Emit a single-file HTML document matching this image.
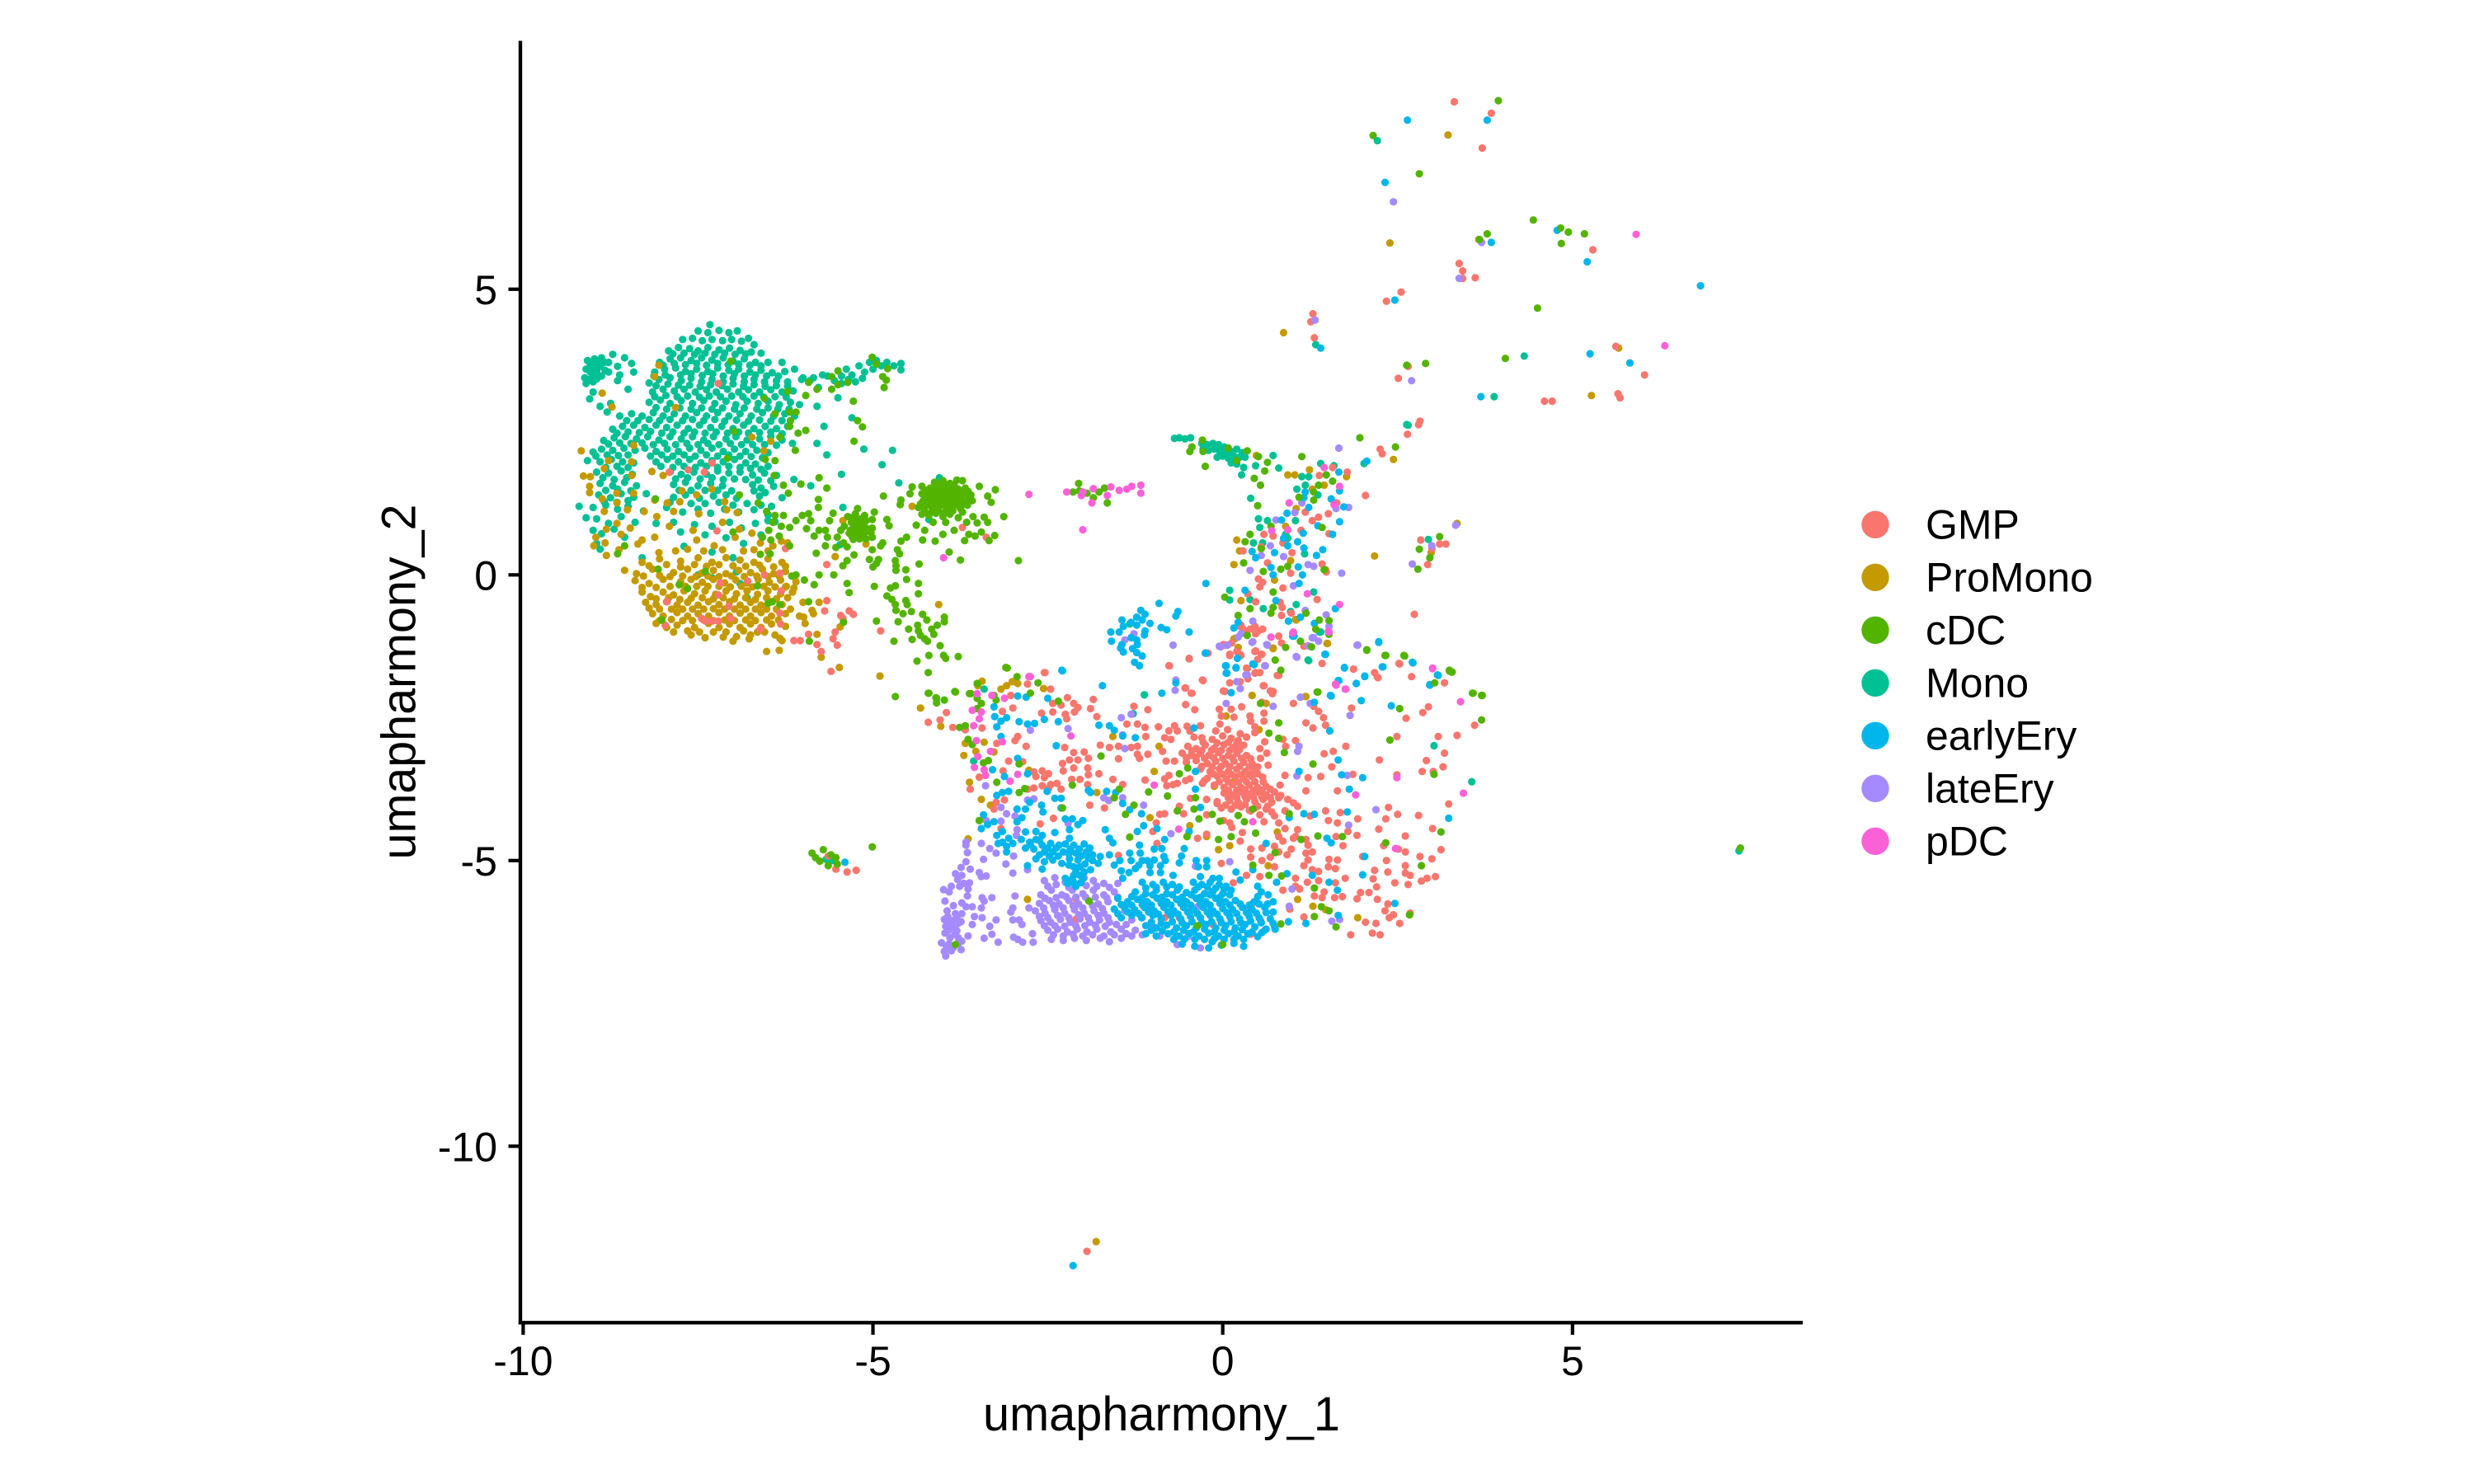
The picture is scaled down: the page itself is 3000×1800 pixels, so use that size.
<!DOCTYPE html>
<html>
<head>
<meta charset="utf-8">
<title>UMAP scatter</title>
<style>
html,body{margin:0;padding:0;background:#fff;}
svg{display:block;}
text{font-family:"Liberation Sans",Arial,sans-serif;fill:#000;}
</style>
</head>
<body>
<svg id="chart" xmlns="http://www.w3.org/2000/svg" width="3000" height="1800" viewBox="0 0 3000 1800">
<rect x="0" y="0" width="3000" height="1800" fill="#ffffff"/>
<g id="points"></g>
<line x1="631" y1="49.5" x2="631" y2="1606.5" stroke="#000" stroke-width="4.4"/>
<line x1="628.8" y1="1604.3" x2="2186" y2="1604.3" stroke="#000" stroke-width="4.4"/>
<g id="ticks"></g>
<text x="1408.5" y="1735" font-size="58.33" text-anchor="middle" textLength="433" lengthAdjust="spacingAndGlyphs">umapharmony_1</text>
<text transform="translate(503.5,827) rotate(-90)" font-size="58.33" text-anchor="middle" textLength="431" lengthAdjust="spacingAndGlyphs">umapharmony_2</text>
<g id="legend"></g>
</svg>
<script>
const xTicks=[-10,-5,0,5];
const yTicks=[-10,-5,0,5];
const seriesNames=["GMP","ProMono","cDC","Mono","earlyEry","lateEry","pDC"];
const seriesColors=["#F8766D","#C49A00","#53B400","#00C094","#00B6EB","#A58AFF","#FB61D7"];
const monoPoints=[-7.33,4.38,-7.5,4.27,-7.36,4.24,-7.2,4.28,-7.06,4.24,-6.94,4.27,-7.72,4.12,-7.58,4.14,-7.44,4.1,-7.3,4.12,-7.15,4.1,-7.02,4.12,-6.88,4.09,-6.78,4.14,-6.7,4.03,-7.92,3.92,-7.78,3.98,-7.62,3.96,-7.5,3.92,-7.36,3.98,-7.2,3.94,-7.05,3.97,-6.9,3.93,-6.74,3.9,-6.6,3.88,-8.05,3.72,-7.9,3.78,-7.75,3.8,-7.6,3.75,-7.45,3.8,-7.3,3.76,-7.14,3.8,-7,3.74,-6.84,3.78,-6.68,3.72,-6.5,3.72,-6.3,3.72,-8.12,3.55,-7.98,3.6,-7.82,3.62,-7.68,3.56,-7.52,3.6,-7.36,3.56,-7.22,3.62,-7.06,3.58,-6.92,3.6,-6.76,3.55,-6.6,3.58,-6.44,3.54,-6.26,3.56,-6.12,3.6,-8.2,3.36,-8.06,3.42,-7.9,3.45,-7.74,3.4,-7.6,3.44,-7.45,3.38,-7.3,3.42,-7.14,3.38,-7,3.44,-6.84,3.38,-6.7,3.42,-6.55,3.38,-6.38,3.4,-6.22,3.38,-6.02,3.42,-5.85,3.45,-5.72,3.5,-8.15,3.2,-8,3.25,-7.84,3.22,-7.7,3.25,-7.54,3.2,-7.38,3.24,-7.24,3.2,-7.08,3.25,-6.92,3.2,-6.78,3.24,-6.62,3.2,-6.46,3.24,-6.3,3.2,-6.14,3.22,-8.2,3.02,-8.04,3.06,-7.9,3,-7.74,3.05,-7.58,3,-7.42,3.05,-7.26,3,-7.1,3.04,-6.96,2.98,-6.8,3.04,-6.64,3,-6.5,3.04,-6.34,2.98,-6.18,3.02,-6.05,2.98,-8.62,2.78,-8.45,2.82,-8.3,2.78,-8.14,2.84,-8,2.78,-7.84,2.82,-7.68,2.78,-7.52,2.84,-7.38,2.78,-7.22,2.84,-7.06,2.78,-6.9,2.82,-6.74,2.78,-6.58,2.84,-6.42,2.78,-6.26,2.82,-6.12,2.78,-8.72,2.55,-8.58,2.6,-8.42,2.62,-8.26,2.58,-8.1,2.62,-7.95,2.58,-7.8,2.62,-7.64,2.56,-7.48,2.62,-7.32,2.58,-7.16,2.6,-7,2.56,-6.85,2.62,-6.7,2.56,-6.54,2.6,-6.38,2.56,-6.22,2.6,-8.85,2.35,-8.7,2.4,-8.54,2.42,-8.38,2.38,-8.22,2.42,-8.06,2.36,-7.9,2.42,-7.74,2.38,-7.58,2.42,-7.42,2.36,-7.28,2.42,-7.1,2.38,-6.96,2.42,-6.8,2.36,-6.62,2.38,-6.46,2.42,-6.3,2.36,-6.15,2.3,-9,2.15,-8.88,2.2,-8.72,2.18,-8.56,2.22,-8.4,2.18,-8.26,2.22,-8.1,2.16,-7.94,2.2,-7.78,2.16,-7.62,2.22,-7.46,2.18,-7.3,2.22,-7.14,2.16,-6.98,2.2,-6.82,2.16,-6.66,2.18,-6.5,2.14,-9.08,2,-8.9,1.98,-8.74,2.02,-8.58,1.98,-8.42,1.96,-8.1,1.98,-7.94,2.02,-7.78,1.98,-7.62,2.02,-7.46,1.96,-7.3,2,-7.14,1.98,-6.98,2.02,-6.82,1.96,-6.68,1.94,-6.5,1.9,-8.95,1.8,-8.78,1.78,-8.6,1.82,-8.44,1.76,-7.9,1.8,-7.74,1.76,-7.56,1.8,-7.38,1.76,-7.22,1.82,-7.06,1.78,-6.9,1.8,-6.72,1.75,-6.55,1.78,-6.38,1.74,-8.9,1.6,-8.72,1.56,-8.55,1.62,-8.38,1.56,-7.85,1.58,-7.68,1.62,-7.5,1.56,-7.32,1.6,-7.15,1.56,-6.72,1.58,-6.6,1.52,-6.42,1.55,-6.3,1.35,-8.92,1.4,-8.75,1.35,-8.6,1.42,-8.42,1.36,-8.24,1.42,-7.85,1.36,-7.68,1.4,-7.48,1.34,-7.28,1.38,-7.1,1.4,-6.95,1.34,-6.62,1.38,-6.45,1.2,-9.2,1.2,-9,1.18,-8.82,1.22,-8.65,1.15,-8.5,1.2,-8.28,1.12,-7.95,1.18,-7.72,1.1,-7.5,1.15,-7.32,1.08,-7.12,1.15,-6.92,1.1,-6.7,1.14,-6.5,1.05,-6.4,0.93,-9.1,1,-8.95,0.98,-8.78,0.9,-8.6,1.02,-8.4,0.92,-8.1,0.9,-7.85,0.92,-7.55,0.88,-7.3,0.85,-7.05,0.92,-6.88,0.82,-6.68,0.9,-6.5,0.95,-9,0.78,-8.88,0.72,-8.7,0.8,-8.55,0.66,-7.75,0.75,-7.4,0.7,-7.1,0.65,-6.85,0.55,-6.6,0.7,-8.95,0.55,-8.9,0.45,-8.3,0.3,-7.7,0.5,-7.3,0.4,-7,0.3,-6.95,0.05,-6.9,-0.15,-7.3,-0.05,-7.5,0,-7.4,-0.8,-6.8,-0.4,-9.08,3.75,-8.98,3.78,-8.88,3.8,-8.78,3.72,-8.72,3.86,-9.1,3.6,-9,3.62,-8.9,3.65,-8.78,3.55,-9.12,3.45,-9,3.5,-8.88,3.48,-9.1,3.35,-9,3.38,-8.55,3.8,-8.45,3.7,-8.65,3.65,-8.62,3.5,-8.65,3.4,-8.5,3.25,-8.42,3.55,-9,3.2,-9.05,3.08,-8.8,2.85,-8.75,3,-8.9,2.95,-6,3.45,-5.9,3.4,-5.78,3.28,-5.65,3.48,-5.55,3.4,-5.45,3.35,-5.38,3.6,-5.3,3.5,-5.2,3.66,-5.12,3.55,-5.05,3.72,-5,3.6,-4.95,3.75,-4.88,3.66,-4.8,3.72,-4.7,3.66,-4.6,3.7,-5.35,3.42,-5.25,3.38,-5.15,3.44,-5.45,3.48,-4.6,3.59,-5.5,3.1,-5.3,2.75,-5.8,2.95,-5.7,2.6,-5.8,2.3,-5.66,2.1,-5.13,2.2,-4.63,1.61,-6.13,1.67,-5.89,1.56,-5.45,1.76,-5.43,1.18,-4.72,2.18,-4.87,1.93,-4.05,1.7,-4.2,0.97,-5.47,0.53,2.21,7.6,1.33,4.03,4.31,3.83,3.88,3.12,2.63,2.63,-0.69,2.39,-0.62,2.4,-0.54,2.38,-0.46,2.4,0.51,0.98,0.53,0.83,0.64,0.95,0.44,0.56,0.57,0.56,0.9,0.71,0.93,0.64,1.04,0.95,0.4,1.34,1.18,1.57,1.06,1.5,1.36,1.4,1.4,1.95,1.59,1.91,1.13,1.72,1.23,1.72,0.47,1.91,0.3,1.88,0.27,1.75,0.8,1.87,0.72,2.09,2.02,1.95,2.65,2.62,0.1,-0.27,0.1,-0.44,0.39,-0.43,0.58,-0.59,1.3,-0.3,1.05,-0.52,0.97,-0.64,1.4,-1,1.23,-1.5,-1.12,-2.1,2.94,0.62,1.17,0.37,-0.3,2.3,-0.22,2.28,-0.14,2.3,-0.06,2.28,0.02,2.24,-0.28,2.2,-0.2,2.18,-0.12,2.2,-0.04,2.16,0.04,2.14,0.12,2.16,0.2,2.2,0.28,2.14,-0.08,2.06,0,2.08,0.08,2.04,0.16,2.08,0.24,2.06,0.32,2.06,0.12,1.96,0.2,1.94,-1.12,-2.1,-3.41,-2,-3.56,-3.26,1.22,-1.49,-1.28,-2.43,3.02,-2.99,3.56,-3.62,-1.33,-0.86,1.38,-1,-5.67,-4.98,-5.58,-5,7.38,-4.83,-7.86,3.87,-7.7,3.88,-7.55,3.86,-7.4,3.88,-7.26,3.86,-7.12,3.88,-6.97,3.86,-6.82,3.87,-8,3.67,-7.84,3.7,-7.68,3.68,-7.52,3.7,-7.38,3.67,-7.22,3.7,-7.07,3.68,-6.92,3.69,-6.76,3.67,-6.6,3.66,-8.13,3.48,-7.97,3.5,-7.75,3.5,-7.6,3.52,-7.44,3.49,-7.29,3.52,-7.14,3.48,-6.98,3.52,-6.84,3.48,-6.68,3.5,-6.52,3.48,-6.35,3.48,-8.1,3.31,-7.93,3.34,-7.78,3.32,-7.62,3.32,-7.47,3.3,-7.32,3.33,-7.16,3.31,-7,3.34,-6.85,3.3,-6.7,3.33,-6.54,3.3,-6.38,3.31,-6.22,3.3,-8.12,3.12,-7.96,3.14,-7.8,3.12,-7.65,3.13,-7.48,3.11,-7.34,3.13,-7.18,3.12,-7.02,3.13,-6.86,3.12,-6.7,3.13,-6.56,3.11,-6.4,3.12,-6.24,3.11,-8.1,2.93,-7.95,2.9,-7.76,2.92,-7.6,2.9,-7.45,2.92,-7.3,2.9,-7.15,2.92,-6.98,2.9,-6.84,2.92,-6.66,2.9,-6.5,2.92,-6.36,2.9,-6.2,2.9,-8.52,2.7,-8.36,2.7,-8.2,2.72,-8.05,2.7,-7.9,2.72,-7.72,2.7,-7.58,2.72,-7.42,2.7,-7.26,2.72,-7.12,2.69,-6.95,2.71,-6.78,2.69,-6.62,2.71,-6.46,2.69,-6.3,2.7,-8.66,2.48,-8.5,2.5,-8.34,2.49,-8.18,2.51,-8.02,2.48,-7.86,2.5,-7.7,2.48,-7.55,2.5,-7.4,2.48,-7.24,2.5,-7.08,2.48,-6.92,2.5,-6.78,2.48,-6.62,2.49,-6.46,2.5,-6.3,2.47,-8.78,2.29,-8.62,2.31,-8.46,2.3,-8.3,2.31,-8.14,2.28,-7.98,2.3,-7.82,2.28,-7.66,2.3,-7.5,2.28,-7.36,2.3,-7.2,2.28,-7.04,2.3,-6.88,2.28,-6.72,2.28,-6.55,2.28,-6.38,2.27,-8.96,2.08,-8.8,2.1,-8.64,2.09,-8.5,2.1,-8.18,2.08,-8.02,2.1,-7.86,2.08,-7.7,2.1,-7.54,2.08,-7.38,2.1,-7.22,2.08,-7.06,2.1,-6.9,2.08,-6.74,2.07,-6.58,2.05,-8.82,1.88,-8.66,1.9,-8.5,1.88,-8.03,1.9,-7.86,1.88,-7.7,1.9,-7.54,1.88,-7.38,1.9,-7.22,1.88,-7.06,1.9,-6.9,1.88,-6.75,1.86,-6.6,1.85,-8.86,1.7,-8.7,1.67,-8.52,1.7,-7.82,1.68,-7.65,1.7,-7.47,1.68,-7.3,1.7,-7.14,1.67,-6.98,1.68,-6.82,1.67,-6.64,1.66,-6.46,1.65,-8.82,1.48,-8.65,1.5,-8.46,1.47,-7.77,1.48,-7.6,1.48,-7.4,1.48,-7.22,1.48,-7.02,1.47,-6.7,1.47,-6.54,1.44,-8.84,1.28,-8.66,1.27,-8.5,1.3,-7.9,1.27,-7.6,1.25,-7.4,1.25,-7.2,1.27,-7,1.22,-6.8,1.25,-6.6,1.22,-9.04,3.68,-8.94,3.7,-8.84,3.72,-9.04,3.55,-8.95,3.56,-8.83,3.58,-9.06,3.42,-8.95,3.43];
const proMonoPoints=[-8.87,3.18,-8.73,2.94,-9.17,2.17,-8.42,2.27,-8.78,2,-8.45,1.98,-8.12,3.47,-8.06,3.67,-7.82,2.93,-6.46,2.34,-6.56,2.17,-6.73,2.41,-9.14,1.73,-9.04,1.72,-9.05,1.55,-9.05,1.44,-8.84,1.86,-8.45,1.74,-8.16,1.81,-8,1.74,-8.66,1.43,-8.87,1.33,-8.66,1.26,-8.42,1.43,-8.12,1.31,-7.94,1.26,-7.73,1.47,-7.52,1.4,-7.3,1.5,-7.12,1.28,-7.76,1.28,-8.84,1.11,-8.51,1.14,-8.27,1.11,-8.09,1.02,-7.85,1.11,-7.49,1.07,-7.09,1.14,-6.94,1.09,-8.66,0.9,-8.81,0.8,-8.96,0.66,-8.99,0.51,-8.83,0.56,-8.6,0.71,-8.47,0.82,-8.3,0.61,-8.12,0.66,-7.91,0.85,-7.57,0.78,-7.15,0.92,-6.91,0.8,-6.73,0.73,-6.31,0.59,-6.22,0.56,-8.81,0.34,-8.63,0.44,-8.36,0.54,-8.06,0.39,-7.82,0.42,-7.52,0.61,-7.27,0.51,-6.97,0.66,-6.61,0.56,-6.43,0.51,-8.3,0.22,-8.05,0.28,-7.75,0.24,-7.5,0.3,-7.3,0.22,-7.1,0.3,-6.9,0.26,-6.7,0.22,-6.5,0.28,-6.3,0.22,-8.55,0.08,-8.38,0.02,-8.15,0.1,-7.85,0.04,-7.65,0.1,-7.45,0.03,-7.28,0.08,-7.1,0.02,-6.92,0.08,-6.75,0.04,-6.58,0.1,-6.42,0.02,-6.25,0.06,-8.4,-0.1,-8.2,-0.15,-8,-0.08,-7.75,-0.12,-7.6,-0.08,-7.44,-0.13,-7.28,-0.08,-7.12,-0.14,-6.96,-0.09,-6.8,-0.14,-6.64,-0.08,-6.48,-0.13,-6.32,-0.09,-6.1,-0.12,-8.3,-0.3,-8.18,-0.38,-8,-0.3,-7.85,-0.35,-7.7,-0.28,-7.55,-0.33,-7.4,-0.28,-7.25,-0.34,-7.1,-0.28,-6.95,-0.33,-6.8,-0.28,-6.65,-0.34,-6.5,-0.28,-6.32,-0.33,-6.15,-0.3,-8.25,-0.48,-8.1,-0.52,-7.95,-0.47,-7.8,-0.53,-7.65,-0.48,-7.5,-0.53,-7.35,-0.47,-7.2,-0.52,-7.05,-0.47,-6.9,-0.53,-6.75,-0.48,-6.6,-0.53,-6.45,-0.47,-6.3,-0.52,-6,-0.48,-8.15,-0.68,-8,-0.72,-7.8,-0.66,-7.65,-0.72,-7.5,-0.68,-7.35,-0.72,-7.2,-0.66,-7.05,-0.72,-6.9,-0.67,-6.75,-0.72,-6.6,-0.66,-6.45,-0.72,-6.25,-0.68,-6.05,-0.72,-5.85,-0.68,-8.1,-0.85,-7.95,-0.92,-7.8,-0.88,-7.55,-0.92,-7.35,-0.85,-7.2,-0.92,-7.05,-0.86,-6.9,-0.92,-6.75,-0.86,-6.6,-0.92,-6.45,-0.86,-6.25,-0.9,-7.6,-1.05,-7.4,-1.1,-7.1,-1,-6.95,-1.08,-6.75,-1.05,-6.55,-1,-6.4,-1.05,-6.3,-1.15,-7.14,-1.09,-7,-1.16,-6.77,-1.12,-6.52,-1.34,-6.34,-1.32,-6.33,-1.11,-5.74,-1.44,-5.48,-1.62,-4.9,-1.77,-4.06,-0.52,-5.97,-0.85,-5.99,-0.74,-5.77,-0.48,-5.87,-0.62,-6.13,-0.23,-6.25,-0.21,-5.8,-1.04,-5.47,-0.91,-5.1,0.54,-5.43,0.95,-4.44,1.2,-5.54,0.32,3.22,7.7,2.39,5.81,0.87,4.24,5.66,3.97,5.27,3.14,3.66,5.87,2.44,2.02,0.93,1.75,1.03,1.75,1.24,1.84,0.48,2.09,1.77,1.72,1.45,1.57,1.28,1.5,1.05,1.16,0.2,0.61,0.9,0.85,0.24,0.42,0.16,0.18,0.97,0.25,2.17,0.33,2.98,0.39,3.35,0.9,1.47,0.09,0.74,-0.09,0.26,-0.45,1.05,-0.79,0.18,-1.11,1.5,-1.2,0.22,-1.27,0.72,-1.29,0.42,-2.11,1.18,-2.13,-4.32,-2.33,-4.03,-2.65,-3.44,-1.86,-3.5,-1.94,-3.01,-1.87,-2.93,-1.9,-3.09,-1.94,-3.17,-2,-2.56,-1.99,-3.41,-2.93,-3.68,-2.95,-3.53,-3.09,-3.7,-3.16,-3.27,-3.1,-2.77,-3.42,-3.62,-3.63,-3.45,-3.93,-3.32,-4.03,-1.8,-3.81,-0.91,-3,-0.98,-3.44,-1.57,-2.83,-1.04,-4.25,-0.47,-4.39,-0.23,-4.58,0.1,-4.74,-0.06,-4.81,-0.12,-3.7,0.17,-3.6,0.19,-4.03,0.78,-4.5,0.65,-5.09,0.05,-2.47,0.42,-2.11,0.62,-2.25,1.19,-2.13,0.52,-2.71,-3.64,-4.62,-2.79,-5.68,1.07,-5.68,1.29,-5.8,1.47,-5.86,1.93,-6,1.49,-1.2,0.22,-1.27,0.16,-1.12,0.72,-1.28,1.04,-0.78,-1.81,-11.67,-8.2,0.16,-7.95,0.18,-7.75,0.14,-7.55,0.18,-7.38,0.15,-7.2,0.18,-7,0.16,-6.82,0.15,-6.62,0.17,-6.42,0.14,-6.25,0.15,-8.28,-0.02,-8.05,-0.01,-7.9,-0.03,-7.72,-0.02,-7.53,-0.03,-7.36,-0.02,-7.2,-0.03,-7.02,-0.02,-6.84,-0.03,-6.66,-0.02,-6.5,-0.03,-6.34,-0.02,-8.3,-0.22,-8.1,-0.22,-7.9,-0.2,-7.68,-0.2,-7.52,-0.2,-7.36,-0.2,-7.2,-0.2,-7.04,-0.21,-6.88,-0.2,-6.72,-0.21,-6.56,-0.2,-6.4,-0.21,-6.24,-0.2,-8.1,-0.42,-7.92,-0.4,-7.76,-0.43,-7.6,-0.41,-7.44,-0.4,-7.28,-0.42,-7.14,-0.4,-6.98,-0.42,-6.82,-0.4,-6.68,-0.43,-6.52,-0.4,-6.38,-0.42,-6.22,-0.4,-8.2,-0.58,-8.05,-0.6,-7.88,-0.6,-7.72,-0.6,-7.58,-0.6,-7.42,-0.6,-7.28,-0.59,-7.12,-0.6,-6.98,-0.6,-6.82,-0.6,-6.68,-0.6,-6.52,-0.6,-6.38,-0.6,-6.18,-0.6,-8.05,-0.8,-7.88,-0.78,-7.72,-0.8,-7.58,-0.8,-7.42,-0.79,-7.28,-0.8,-7.12,-0.79,-6.98,-0.8,-6.82,-0.79,-6.68,-0.8,-6.52,-0.79,-6.35,-0.79,-7.85,-1,-7.65,-0.98,-7.48,-1,-7.28,-1,-6.85,-0.98,-6.65,-1,-7.65,0.45,-7.42,0.42,-7.15,0.44,-6.85,0.42,-6.7,0.44,-6.5,0.42];
const gmpPoints=[3.31,8.28,3.84,8.08,3.71,7.47,3.38,5.45,3.43,5.32,3.43,5.19,3.61,5.2,5.29,5.69,2.55,4.95,2.34,4.79,1.29,4.57,1.26,4.43,1.31,4.15,2.65,3.65,2.51,3.44,4.6,3.04,4.71,3.04,5.62,4,6.03,3.5,5.65,3.17,5.68,3.1,2.82,2.69,2.8,2.63,2.64,2.46,2.04,1.39,2.25,2.2,2.28,2.12,1.57,1.88,1.78,1.8,1.63,1.26,1.38,1.74,1.18,1.1,1.51,1.07,1.37,1.01,1.28,0.95,1.12,0.78,1.52,0.72,0.72,0.68,0.59,0.71,0.86,0.56,0.99,0.39,0.29,0.42,0.55,0.49,0.64,0.21,1.42,0.19,0.97,0.03,1.48,0.05,2.93,0.18,2.83,0.61,3.1,0.54,3.19,0.54,2.99,0.46,0.51,-0.07,0.57,-0.13,0.53,-0.21,0.86,-0.23,0.36,-0.33,0.47,-0.47,0.82,-0.48,0.85,-0.57,0.84,-0.71,0.98,-0.67,1.35,-0.43,2.74,-0.69,0.26,-0.88,0.29,-0.95,0.39,-0.95,0.51,-0.98,0.47,-1.03,0.57,-0.95,0.8,-1.07,0.84,-1.19,1.16,-1.25,0.47,-1.33,0.55,-1.39,0.2,-1.34,0.26,-1.41,0.1,-1.41,-0.21,-1.37,0.04,-1.23,-0.48,-1.46,-0.76,-1.59,0.35,-1.64,0.47,-1.71,0.53,-1.71,0.36,-1.82,0.8,-1.76,0.58,-1.94,1.42,-1.55,1.87,-1.65,2.22,-1.8,2.53,-1.56,2.7,-1.78,3.17,-1.89,-0.28,-1.85,-0.53,-1.98,-0.44,-2.07,0.03,-2.04,0.72,-2.04,-2.54,-1.71,-5.66,0.18,-5.66,-0.45,-5.69,-0.63,-5.34,-0.63,-5.28,-0.69,-5.46,-0.71,-5.43,-0.76,-5.54,-1,-5.57,-1.12,-5.51,-1.23,-4.89,-0.98,-5.92,-1.04,-5.8,-1.22,-5.74,-1.34,-6.04,-1.15,-6.13,-1.15,-5.6,-1.69,-6.33,-0.67,-6.32,-0.86,-6.31,-0.28,-6.33,0.03,-6.25,0.46,-3.72,0.83,-3.38,0.66,-7.21,3.35,-7.64,1.84,-7.41,1.8,-7.3,1.96,-7.91,1.8,-7.23,0.77,-7.97,-0.88,-7.39,-0.81,-7.3,-0.81,-7.45,-0.76,-7.21,-0.81,-6.55,0,-6.79,-0.11,-7.18,-0.14,-7.21,-0.35,-7.06,-0.55,-7.94,-0.47,-7.03,-0.76,-6.61,-0.95,2.17,-1.71,2.21,-1.79,2.52,-1.55,1.84,-2.33,2.94,-2.31,2.86,-2.41,2.62,-2.51,3.6,-2.63,3.35,-2.81,3.08,-2.83,2.49,-2.83,1.76,-3,1.58,-3.09,1.45,-3.13,1.56,-3.36,2.24,-3.24,2.91,-3.25,3.17,-3.12,3.15,-3.36,2.85,-3.44,3.01,-3.44,2.49,-3.5,1.86,-3.49,1.4,-3.53,1.22,-3.55,1.64,-3.78,1.19,-3.78,3.23,-4.01,2.37,-4.07,2.5,-4.19,2.8,-4.21,2.33,-4.27,1.93,-4.27,1.68,-4.16,1.47,-4.13,1.51,-4.3,1.25,-4.22,2.23,-4.45,3,-4.44,2.61,-4.57,1.64,-4.34,1.79,-4.49,1.92,-4.56,1.62,-4.58,3.12,-4.81,2.82,-4.93,2.99,-4.97,2.3,-4.74,2.51,-4.8,2.61,-4.85,2,-4.93,2.34,-5,1.72,-4.74,1.52,-4.98,1.64,-4.99,1.51,-5.11,1.61,-5.14,2.17,-5.17,2.36,-5.2,2.61,-5.09,2.61,-5.22,2.68,-5.26,3.04,-5.28,2.92,-5.31,2.84,-5.36,2.15,-5.32,2.2,-5.46,2.46,-5.39,2.65,-5.42,1.75,-5.31,1.61,-5.39,1.37,-5.35,1.97,-5.56,2.09,-5.56,1.92,-5.67,1.71,-5.63,1.6,-5.65,1.42,-5.65,1.45,-5.55,2.21,-5.68,2.36,-5.76,2.32,-5.88,2.44,-5.95,2.38,-6,2.68,-5.92,2.04,-6.08,2.19,-6.1,2.53,-6.1,2.14,-6.27,2.25,-6.3,1.83,-6.3,1.16,-5.99,0.96,-5.85,0.25,-0.9,0.31,-1,0.49,-1,0.46,-0.9,0.01,-1.22,0.13,-1.19,0.1,-1.39,0.25,-1.39,0.46,-1.34,0.56,-1.39,0.5,-1.48,0.34,-1.63,0.46,-1.72,0.53,-1.71,0.78,-1.76,0.1,-1.89,0.25,-1.87,0.59,-1.94,0.01,-2.03,0.68,-2.03,0.71,-2.08,0.56,-2.23,0.12,-2.35,0.27,-2.31,-0.05,-2.35,-0.02,-2.47,0.16,-2.49,0.39,-2.47,0.4,-2.56,0.59,-2.42,0.59,-2.56,0.46,-2.66,-0.04,-2.61,-0.1,-2.73,0.07,-2.71,0.25,-2.78,0.34,-2.84,0.46,-2.76,0.6,-2.92,0.63,-3.12,0.86,-2.88,0.9,-3,1.04,-2.9,0.65,-3.33,0.53,-3.04,0.54,-3.21,0.89,-3.51,0.57,-3.54,1.01,-2.25,1.3,-2.3,1.37,-2.39,1.44,-2.5,1.47,-2.63,1.29,-2.68,1.19,-2.59,0.82,-3.68,0.83,-3.86,0.93,-3.93,1.01,-3.99,1.07,-4.05,-0.24,-1.37,-0.48,-1.47,-0.77,-1.59,-0.29,-1.84,-0.54,-1.98,-0.45,-2.07,-0.53,-2.27,-0.4,-2.36,-1.27,-2.3,-1.07,-2.36,-1.8,-2.48,-1.89,-2.34,-1.85,-2.18,-2.22,-2.15,-2.13,-2.25,-2.07,-2.32,-2.12,-2.4,-2.25,-2.44,-2.23,-2.52,-2.55,-1.71,-2.46,-2,-2.43,-2.25,-2.31,-2.28,-2.43,-2.4,-2.59,-2.42,-2.79,-1.91,-3.03,-2.11,-3,-2.33,-3.15,-2.39,-3.95,-2.41,-4.21,-2.58,-4.04,-2.54,-3.86,-2.67,-3.68,-2.71,-3.44,-2.68,-2.93,-2.83,-2.97,-2.9,-2.81,-3,-3.23,-2.95,-2.26,-3.02,-2.13,-3.11,-1.98,-3.1,-1.75,-2.98,-1.62,-3.02,-1.49,-3,-1.37,-2.61,-1.22,-2.61,-1.11,-2.67,-1.1,-2.83,-0.92,-2.66,-0.77,-2.73,-0.65,-2.73,-0.69,-2.64,-0.51,-2.65,-0.32,-2.64,-0.47,-2.73,-0.83,-2.85,-0.74,-2.88,-0.41,-2.84,-1.31,-3.02,-1.22,-3,-1.07,-3.14,-1.22,-3.14,-1.19,-3.21,-0.86,-3.09,-0.81,-3.26,-0.69,-3.26,-1.49,-3.22,-1.92,-3.21,-2.07,-3.24,-2.29,-3.3,-2.19,-3.24,-2.13,-3.38,-1.93,-3.38,-1.77,-3.48,-1.92,-3.5,-2.28,-3.43,-3.06,-3.26,-2.86,-3.27,-3.14,-3.43,-3.48,-3.54,-1.11,-3.59,-1.43,-3.67,-1.57,-3.58,-2.16,-3.58,-2.04,-3.58,-0.77,-3.51,-0.83,-3.57,-0.65,-3.65,-0.8,-3.69,-0.71,-3.67,-0.53,-3.6,-0.47,-3.57,-0.29,-3.65,-0.26,-3.6,-3.61,-3.75,-1.93,-3.67,-2.7,-3.45,-2.58,-3.43,-2.49,-3.48,-2.67,-3.53,-2.55,-3.55,-2.37,-3.65,-2.46,-3.67,-2.58,-3.69,-2.7,-3.73,-2.79,-3.75,-2.49,-3.74,-2.31,-3.75,-3.24,-3.98,-3.12,-3.94,-3.27,-4.1,-3.17,-4.44,-2.61,-4.36,-2.42,-4.26,-1.9,-4.03,-1.69,-4.08,-0.9,-4.19,-0.83,-4.18,-0.56,-4.18,-0.62,-4.05,-0.95,-4.34,-1,-4.49,-0.46,-3.91,-0.23,-3.93,-0.08,-4,-0.02,-4.08,-0.23,-4.2,0.01,-4.3,0.1,-4.34,0.13,-4.42,0.28,-4.51,0.25,-4.66,-0.23,-4.54,-0.36,-4.61,-0.94,-4.7,-1.49,-4.91,-0.02,-5.05,0.4,-4.8,0.56,-4.78,0.4,-4.94,0.56,-5,0.74,-5.11,0.68,-4.94,0.8,-4.85,0.92,-4.9,0.98,-4.8,0.86,-4.66,0.8,-4.58,0.74,-4.75,0.89,-4.44,1.01,-4.61,1.07,-4.46,1.04,-4.58,1.19,-4.63,1.22,-4.73,1.19,-4.87,1.28,-4.85,1.22,-4.99,1.16,-5.09,1.28,-5.16,1.37,-5.19,1.04,-5.31,1.21,-5.38,1.04,-5.45,1.1,-5.5,0.86,-5.52,0.53,-5.28,0.34,-5.26,0.15,-5.39,0.43,-5.75,0.36,-5.86,1.31,-5.62,0.4,-6.29,-0.14,-6.12,-0.83,-6,-0.77,-5.93,-1.07,-5.86,-0.62,-6,-2.1,-5.67,-2.4,-5.86,-2.1,-6.03,0.4,-4.13,0.46,-4.08,0.53,-4.2,0.59,-4.32,0.74,-4.22,0.8,-4.34,0.89,-4.13,-0.3,-2.85,-0.15,-2.88,0,-2.82,0.12,-2.86,0.22,-2.9,-0.5,-3,-0.38,-3.04,-0.25,-2.98,-0.12,-3.03,0.02,-2.97,0.15,-3.02,0.3,-2.98,-0.58,-3.12,-0.45,-3.16,-0.32,-3.12,-0.2,-3.16,-0.06,-3.11,0.08,-3.16,0.2,-3.12,0.34,-3.16,-0.52,-3.28,-0.38,-3.25,-0.22,-3.3,-0.1,-3.26,0.04,-3.3,0.16,-3.26,0.3,-3.28,0.42,-3.3,-0.32,-3.4,-0.18,-3.44,-0.05,-3.4,0.08,-3.44,0.2,-3.4,0.32,-3.44,0.45,-3.42,-0.22,-3.56,-0.08,-3.52,0.05,-3.57,0.18,-3.53,0.3,-3.57,0.42,-3.53,-0.12,-3.68,0.02,-3.72,0.14,-3.67,0.26,-3.72,0.38,-3.68,0.5,-3.72,0.62,-3.7,0.02,-3.82,0.14,-3.85,0.26,-3.8,0.38,-3.84,0.5,-3.8,0.62,-3.85,0.74,-3.8,-0.08,-3.97,0.1,-3.95,0.22,-3.98,0.34,-3.93,0.46,-3.97,0.58,-3.93,0.7,-3.98,0.12,-4.1,0.26,-4.06,0.38,-4.12,-5.53,-5.15,-5.37,-5.2,-5.24,-5.17,-5.64,-4.92,-1.94,-11.84,-0.44,-3.08,-0.3,-3.07,-0.16,-3.07,-0.02,-3.07,0.1,-3.07,0.24,-3.06,-0.52,-3.2,-0.38,-3.19,-0.26,-3.21,-0.13,-3.2,0,-3.21,0.14,-3.2,0.27,-3.21,0.4,-3.22,-0.3,-3.35,-0.15,-3.36,-0.02,-3.35,0.1,-3.36,0.24,-3.35,0.38,-3.36,0.5,-3.36,-0.14,-3.48,0,-3.49,0.12,-3.49,0.26,-3.5,0.38,-3.49,0.5,-3.48,-0.05,-3.62,0.08,-3.62,0.22,-3.63,0.34,-3.62,0.46,-3.62,0.58,-3.62,0.08,-3.77,0.2,-3.77,0.32,-3.76,0.44,-3.77,0.56,-3.77,0.68,-3.75,0.08,-3.9,0.2,-3.9,0.32,-3.88,0.44,-3.89,0.56,-3.89,0.68,-3.9,0.8,-3.9,0.04,-4.03,0.18,-4.03,0.32,-4.02,0.5,-4.05,0.64,-4.05,-0.28,-2.93,-0.08,-2.94,0.08,-2.93,0.2,-2.95,0.62,-4.1,0.7,-4.15];
const lateEryPoints=[2.44,6.53,3.38,5.19,3.7,5.82,1.32,4.46,2.7,3.4,2.71,0.19,3.33,0.87,2.99,0.51,1.7,0.03,1.22,0.18,1.3,0.15,0.39,0.08,0.55,0.34,0.87,0.32,1.03,1.09,0.76,0.96,1.62,1.16,1.8,1.18,1.13,1.26,1.66,2.22,0.68,0.51,1.01,-0.19,1.18,-0.62,1.48,-0.7,1.52,-0.9,1.3,-1.1,1.37,-1.16,1.93,-1.23,1.06,-1.44,0.43,-1.17,0.64,-1.23,1.22,-1.24,0.43,-0.81,0.26,-1.03,-0.71,-1.23,-0.03,-1.26,0.07,-1.23,0.61,-1.59,-0.67,-1.84,-0.68,-2.02,0.35,-1.75,0.2,-1.87,-1.4,-1.14,-1.27,-1.03,-1.45,-2.5,-1.31,-2.44,-2.75,-2.72,-2.21,-2.69,-1.43,-2.8,-1.4,-3.04,0.05,-2.25,0.25,-1.99,0.33,-1.75,0.6,-1.59,0.42,-1.18,0.63,-1.22,0.22,-1.09,-0.05,-1.25,1.05,-1.43,1.28,-1.1,1.92,-1.23,1.82,-2.46,1.11,-2.14,1.25,-2.25,0.72,-2.3,1.07,-3.09,1.09,-3,1.06,-3.52,1.78,-3.51,2.19,-4.11,1.8,-4.38,1.67,-6.03,1.56,-6.06,0.1,-5.02,0.95,-5.8,-0.39,-5.1,-0.18,-5.57,-0.36,-5.81,0.54,-6.05,0.6,-6.22,0.74,-6.17,0.99,-5.5,-1.43,-3.9,-1.7,-3.9,-1.63,-3.95,-1.13,-4.03,-2.7,-3.92,-2.79,-3.94,-3.09,-4.18,-3.17,-4.07,-2.97,-4.22,-3.39,-3.69,-3.38,-4.3,-3.17,-4.31,-2.94,-4.46,-2.95,-4.56,-2.21,-4.35,-0.74,-4.53,-3.67,-4.68,-3.67,-4.73,-3.45,-4.7,-3.65,-4.86,-3.33,-4.79,-3.24,-4.87,-2.99,-4.92,-3.42,-4.98,-3.67,-5.02,-3.1,-5.06,-3.74,-5.12,-3.61,-5.15,-2.79,-5.16,-3.48,-5.21,-3.45,-5.28,-3.38,-5.27,-3,-5.22,-3.82,-5.23,-3.73,-5.26,-3.79,-5.33,-3.7,-5.4,-3.62,-5.39,-3.88,-5.45,-3.76,-5.45,-3.99,-5.51,-3.91,-5.55,-3.64,-5.5,-3.65,-5.62,-3.44,-5.65,-3.3,-5.65,-2.97,-5.62,-3.41,-5.71,-3.73,-5.74,-3.97,-5.71,-3.85,-5.79,-3.67,-5.81,-3.58,-5.81,-3.45,-5.83,-3,-5.83,-3.03,-5.9,-2.77,-5.83,-3.94,-5.88,-3.82,-5.93,-3.73,-5.93,-3.98,-6.03,-3.86,-6.05,-3.74,-6.07,-3.55,-5.98,-3.44,-6,-3.24,-6.04,-3.58,-6.12,-3,-6.04,-2.91,-6.04,-3.33,-6.15,-2.87,-6.12,-3.96,-6.15,-3.85,-6.17,-3.97,-6.27,-3.83,-6.29,-3.3,-6.29,-3.41,-6.36,-3.64,-6.32,-3.73,-6.41,-2.99,-6.34,-2.93,-6.38,-3.21,-6.43,-2.72,-6.28,-2.71,-6.43,-2.86,-6.43,-4.02,-6.44,-3.91,-6.46,-3.98,-6.59,-3.88,-6.58,-3.96,-6.67,-3.74,-6.56,-2.55,-5.35,-2.4,-5.3,-2.25,-5.38,-1.98,-5.3,-1.85,-5.35,-1.7,-5.4,-1.5,-5.4,-2.6,-5.6,-2.45,-5.52,-2.3,-5.6,-2.15,-5.52,-2,-5.58,-1.85,-5.52,-1.7,-5.6,-1.55,-5.55,-2.62,-5.75,-2.48,-5.7,-2.34,-5.76,-2.2,-5.7,-2.06,-5.76,-1.92,-5.7,-1.78,-5.76,-1.64,-5.72,-2.68,-5.88,-2.54,-5.92,-2.4,-5.86,-2.26,-5.92,-2.12,-5.86,-1.98,-5.92,-1.84,-5.88,-1.7,-5.92,-1.4,-5.88,-2.6,-6.05,-2.46,-6.08,-2.32,-6.03,-2.18,-6.08,-2.04,-6.02,-1.9,-6.08,-1.76,-6.04,-1.62,-6.08,-1.3,-6.04,-1.15,-6,-2.5,-6.22,-2.36,-6.2,-2.22,-6.25,-2.08,-6.2,-1.94,-6.25,-1.8,-6.2,-1.6,-6.25,-1.45,-6.2,-1.25,-6.22,-1,-6.15,-2.45,-6.38,-2.28,-6.4,-2.12,-6.36,-1.95,-6.4,-1.75,-6.36,-1.62,-6.42,-1.45,-6.36,-1.3,-6.32,-1.15,-6.3,-0.9,-6.32,-0.65,-6.32,-0.5,-6.33,-0.65,-6.47,-0.32,-6.53,-2.5,-5.45,-2.38,-5.42,-2.2,-5.47,-1.95,-5.44,-1.8,-5.45,-1.62,-5.47,-2.54,-5.66,-2.38,-5.65,-2.24,-5.63,-2.1,-5.64,-1.96,-5.64,-1.82,-5.64,-1.66,-5.65,-1.5,-5.64,-2.56,-5.83,-2.42,-5.78,-2.28,-5.83,-2.14,-5.79,-2,-5.83,-1.86,-5.79,-1.72,-5.84,-2.62,-5.98,-2.5,-6,-2.36,-5.96,-2.2,-6,-2.06,-5.95,-1.92,-6,-1.78,-5.96,-1.64,-6,-2.55,-6.14,-2.4,-6.14,-2.26,-6.15,-2.1,-6.14,-1.97,-6.14,-1.82,-6.13,-1.68,-6.15,-1.52,-6.12,-1.38,-6.12,-2.42,-6.3,-2.28,-6.32,-2.14,-6.29,-2,-6.32,-1.86,-6.3,-1.7,-6.32,-1.55,-6.3,-1.38,-6.28,-3.93,-5.98,-3.8,-5.98,-3.9,-6.1,-3.78,-6.1,-3.92,-6.22,-3.8,-6.23,-3.9,-6.35,-3.78,-6.35,-3.85,-6.52,-3.95,-6.5,-3.78,-6.45];
const earlyEryPoints=[2.64,7.96,3.78,7.96,2.32,6.87,3.84,5.82,4.78,6.03,5.21,5.48,2.46,4.81,6.83,5.06,1.4,3.97,5.25,3.87,5.82,3.71,3.69,3.12,2.06,1.99,1.66,1.8,1.67,1.47,1.18,1.45,1.16,1.35,1.55,1.33,1.73,1.19,1.23,1.18,0.92,1.08,0.84,0.96,1.67,0.93,1.36,0.86,1.15,0.73,1.57,0.71,0.87,0.64,1.07,0.58,1.16,0.47,1.43,0.44,1.34,0.34,0.42,0.41,0.74,0.39,0.93,0.51,0.47,0.3,0.69,0.13,0.72,0,1.08,0.14,1.14,0,1.09,-0.15,-0.24,-0.15,0.32,-0.27,0.76,-0.45,1.61,-0.59,0.94,-0.81,1.11,-0.74,1.31,-0.85,1.02,-1.07,0.16,-0.93,0.22,-0.83,2.23,-1.18,-0.24,-1.37,1.47,-1.39,0.45,-1.57,0.21,-1.46,1.74,-1.63,2.29,-1.61,2.72,-1.54,2.03,-1.78,1.91,-1.9,1.66,-1.85,0.05,-1.59,0.19,-1.62,0.06,-1.72,3.08,-1.76,2.96,-1.93,1.55,-2.12,-2.29,-1.68,-1.72,-1.94,-0.87,-2.07,-0.67,-1.89,-0.91,-0.5,-0.64,-0.64,-0.67,-0.72,-1.17,-0.62,-1.11,-0.69,-1.23,-0.74,-1.15,-0.79,-1.44,-0.79,-1.31,-0.83,-1.23,-0.88,-1.04,-0.85,-1.42,-0.9,-1.6,-1,-1.48,-1,-1.11,-0.98,-1.12,-1.05,-0.88,-0.92,-0.8,-0.96,-0.48,-1,-1.59,-1.16,-1.31,-1.1,-1.23,-1.14,-1.22,-1.22,-1.44,-1.22,-1.46,-1.28,-1.42,-1.35,-1.29,-1.29,-1.23,-1.36,-1.15,-1.42,-1.26,-1.53,-1.19,-1.59,-3.42,-4.2,-3.48,-4.3,-3.27,-4.32,-3.36,-4.37,-3.45,-4.44,-3.23,-4.56,-3.15,-4.49,-3.06,-4.61,-3.15,-4.68,-3.21,-4.7,-3,-4.7,-3.09,-4.75,-3.09,-4.85,-2.82,-4.5,-2.67,-4.49,-2.58,-4.56,-2.4,-4.51,-2.19,-4.61,-2.88,-4.63,-2.76,-4.68,-2.67,-4.63,-2.82,-4.78,-2.7,-4.8,-2.58,-4.73,-2.46,-4.7,-2.34,-4.73,-2.25,-4.71,-2.55,-4.85,-2.43,-4.85,-2.28,-4.85,-2.13,-4.73,-1.98,-4.71,-2.1,-4.87,-1.95,-4.85,-1.86,-4.9,-1.75,-4.93,-1.62,-4.9,-2.67,-4.97,-2.55,-5.02,-2.43,-4.99,-2.19,-4.97,-2.07,-4.99,-2.79,-5.09,-2.58,-5.15,-2.13,-5.11,-2.04,-5.11,-1.86,-5,-1.89,-5.16,-2.13,-5.26,-2.04,-5.26,-2.13,-5.38,-2.03,-5.39,-2.25,-5.31,-2.22,-5.4,-2.1,-5.45,-1.47,-5,-1.33,-4.87,-1.18,-4.87,-1.31,-5,-1.15,-5,-0.98,-4.99,-0.87,-4.79,-0.98,-4.8,-0.83,-4.63,-1.13,-4.39,-1.22,-4.49,-0.94,-4.44,-0.48,-4.49,-1.62,-4.61,-1.57,-4.69,-1.68,-4.46,-1.19,-4.73,-0.55,-4.79,-0.59,-4.92,-0.84,-4.93,-0.62,-5.04,-2.3,-1.67,-2.93,-2.12,-2.81,-2.14,-2.5,-2.16,-3.27,-2.31,-3.26,-2.48,-3.09,-2.5,-3.17,-2.56,-3.23,-2.66,-2.91,-2.57,-2.79,-2.61,-2.69,-2.6,-2.55,-2.53,-2.35,-2.57,-1.77,-2.63,-1.62,-2.64,-1.55,-2.72,-1.43,-2.82,-1.25,-2.85,-3.17,-2.83,-2.38,-2.99,-0.41,-2.68,-0.25,-1.37,0.04,-1.59,0.19,-1.63,0.05,-1.72,0.12,-2.06,0.43,-1.56,1,-1.07,1.46,-1.39,1.53,-2.73,1.31,-2.23,1.54,-2.11,1.98,-2.2,2.41,-2.29,1.74,-1.62,2.28,-1.61,2.71,-1.53,2.23,-1.17,2.03,-1.77,1.91,-1.9,1.65,-1.85,3.07,-1.75,2.96,-1.92,1.65,-3.24,1.7,-3.5,2,-3.55,1.09,-3.44,1.81,-3.75,1.16,-4.18,1.31,-4.19,1.78,-4.15,3.23,-4.26,1.49,-4.61,1.55,-4.69,2.03,-4.93,0.95,-4.25,0.62,-4.7,0.43,-5.16,0.19,-5.2,0.25,-5.34,0.92,-5.23,0.77,-5.38,1.28,-5.26,1.52,-5.38,2,-5.25,1.64,-5.52,2.46,-5.75,1.65,-5.96,1.19,-6.1,0.94,-6.07,-0.39,-3.75,-0.39,-3.44,-0.32,-4.07,-1.16,-4.18,-1.43,-4,-1.33,-4.11,-1.66,-3.79,-1.53,-3.81,-1.92,-3.77,-1.89,-3.81,-2.4,-3.91,-2.31,-3.91,-2.31,-4.08,-2.59,-4.03,-2.57,-4.15,-2.76,-3.98,-2.82,-4.1,-2.94,-4.1,-2.87,-4.25,-2.94,-4.32,-3.06,-3.79,-3.15,-3.81,-3.23,-3.86,-3.12,-3.53,-3.29,-3.41,-2.93,-3.21,-2.79,-3.48,-2.51,-3.79,-2.25,-4.27,-2.15,-4.27,-2,-4.3,-2.07,-4.37,-2.19,-4.46,-1.04,-5.09,-0.89,-5.09,-0.38,-5,-0.23,-5,-0.35,-5.11,-0.23,-5.11,-1.25,-5.14,-1.34,-5.21,-1.43,-5.31,-1.04,-5.21,-0.89,-5.21,-0.71,-5.26,-0.32,-5.28,-0.14,-5.31,-0.05,-5.31,0.5,-5.45,-1.15,-5.38,-1,-5.42,-0.85,-5.38,-0.72,-5.42,-0.42,-5.38,-0.3,-5.42,-0.18,-5.38,-0.05,-5.42,0.05,-5.45,-1.25,-5.55,-1.1,-5.58,-0.95,-5.52,-0.8,-5.58,-0.65,-5.52,-0.52,-5.56,-0.4,-5.52,-0.26,-5.58,-0.14,-5.54,0,-5.58,0.12,-5.52,0.55,-5.55,0.65,-5.6,-1.5,-5.66,-1.36,-5.72,-1.22,-5.68,-1.08,-5.72,-0.94,-5.66,-0.8,-5.72,-0.66,-5.68,-0.52,-5.72,-0.38,-5.66,-0.24,-5.72,-0.1,-5.66,0.04,-5.72,0.18,-5.7,0.45,-5.72,0.72,-5.72,-1.55,-5.85,-1.4,-5.82,-1.26,-5.86,-1.12,-5.82,-0.98,-5.88,-0.84,-5.82,-0.7,-5.88,-0.56,-5.82,-0.42,-5.86,-0.28,-5.82,-0.14,-5.88,0,-5.84,0.14,-5.86,0.28,-5.82,0.42,-5.86,0.6,-5.82,0.72,-5.9,-1.45,-6,-1.3,-5.96,-1.16,-6,-1,-5.96,-0.88,-6.02,-0.74,-5.96,-0.6,-6.02,-0.46,-5.98,-0.32,-6,-0.18,-5.96,-0.04,-6.02,0.1,-5.98,0.24,-6.02,0.38,-5.98,0.52,-6,0.68,-6.02,-1.1,-6.14,-0.95,-6.18,-0.8,-6.13,-0.66,-6.18,-0.52,-6.14,-0.38,-6.18,-0.24,-6.12,-0.1,-6.18,0.04,-6.14,0.18,-6.18,0.32,-6.12,0.46,-6.16,0.62,-6.2,0.75,-6.2,-1.1,-6.28,-0.95,-6.32,-0.78,-6.28,-0.62,-6.32,-0.48,-6.28,-0.34,-6.32,-0.2,-6.27,-0.06,-6.32,0.08,-6.28,0.22,-6.32,0.36,-6.28,0.5,-6.33,-0.58,-6.46,-0.4,-6.5,-0.2,-6.53,-0.15,-6.42,-0.02,-6.48,0.16,-6.45,0.3,-6.5,-5.4,-5.03,-2.14,-12.09,-2.75,-4.72,-2.62,-4.65,-2.5,-4.78,-2.38,-4.78,-2.18,-4.8,-2.05,-4.8,-1.9,-4.78,-2.62,-4.9,-2.48,-4.92,-2.35,-4.92,-2.2,-4.88,-2.02,-4.92,-1.92,-4.96,-2.3,-5.05,-2.2,-5.08,-1.97,-5.06,-1.78,-5.05,-2.1,-5.2,-1.98,-5.2,-2.15,-5.32,-2,-5.32,-1.55,-5.08,-1.45,-5.18,-1.2,-5.08,-1.08,-5,-0.82,-5,-1.1,-5.48,-0.95,-5.47,-0.8,-5.46,-0.62,-5.46,-0.35,-5.46,-0.22,-5.46,-0.1,-5.48,0.02,-5.5,-1.3,-5.63,-1.15,-5.65,-1,-5.6,-0.87,-5.64,-0.72,-5.6,-0.58,-5.64,-0.45,-5.6,-0.32,-5.64,-0.18,-5.6,-0.04,-5.64,0.1,-5.6,0.5,-5.63,-1.45,-5.77,-1.3,-5.78,-1.15,-5.77,-1.02,-5.78,-0.88,-5.75,-0.74,-5.78,-0.6,-5.75,-0.46,-5.78,-0.32,-5.75,-0.18,-5.78,-0.04,-5.75,0.1,-5.78,0.25,-5.76,0.38,-5.78,0.52,-5.76,0.64,-5.76,-1.5,-5.93,-1.36,-5.9,-1.2,-5.93,-1.06,-5.9,-0.92,-5.94,-0.78,-5.9,-0.64,-5.94,-0.5,-5.9,-0.36,-5.93,-0.22,-5.9,-0.08,-5.94,0.06,-5.91,0.2,-5.93,0.34,-5.91,0.48,-5.92,0.62,-5.91,-1.02,-6.08,-0.88,-6.1,-0.72,-6.07,-0.58,-6.09,-0.44,-6.07,-0.3,-6.09,-0.16,-6.07,-0.02,-6.09,0.12,-6.07,0.26,-6.09,0.4,-6.06,0.55,-6.09,0.72,-6.1,-1.02,-6.22,-0.86,-6.23,-0.7,-6.25,-0.56,-6.22,-0.42,-6.25,-0.26,-6.2,-0.12,-6.25,0.02,-6.22,0.16,-6.25,0.28,-6.21,0.42,-6.25,0.56,-6.26,-0.7,-6.38,-0.55,-6.38,-0.4,-6.38,-0.26,-6.38,-0.12,-6.37,0.02,-6.38,0.16,-6.38,0.3,-6.38];
const cdcPoints=[3.94,8.3,2.15,7.69,2.81,7.02,3.78,5.97,3.67,5.87,4.44,6.21,4.83,6.07,4.94,6,5.17,5.97,4.84,5.8,4.5,4.67,2.63,3.67,2.9,3.7,4.04,3.79,-0.29,2.36,-0.44,2.24,-0.47,2.16,-0.28,2.16,0.08,2.22,0.35,2.17,0.51,2.07,0.2,2,0.64,1.97,-0.25,1.9,0.6,1.82,0.45,1.69,0.54,1.57,1.13,2.07,1.96,2.4,2.47,2.24,0.5,1.21,1.09,1.36,1.48,1.75,1.57,1.64,1.37,1.57,1.3,1.45,1.3,1.31,1.42,0.83,0.39,0.71,0.69,0.85,0.32,0.58,0.55,0.46,0.3,0.21,0.58,0.06,0.83,0.1,0.93,0.15,1.45,0.09,0.72,-0.3,0.03,-0.39,0.39,-0.59,0.69,-0.67,0.72,-0.57,0.22,-0.71,1.19,-0.67,1.38,-0.79,1.52,-0.8,1.33,-0.95,1.52,-1.04,0.35,-1.06,1.11,-1.16,0.9,-1.27,1.27,-1.26,2.06,-1.31,2.33,-1.41,2.6,-1.42,0.75,-1.49,0.83,-1.67,3.24,-1.68,3.28,-1.7,1.36,-2.05,3.58,-2.07,3.71,-2.11,3.1,0.67,2.81,0.45,2.96,0.3,2.79,0.1,-3.1,-1.62,-2.06,1.6,-2.05,1.47,-2.14,1.45,-1.85,1.35,-1.77,1.45,-1.69,1.52,-1.65,1.26,-1.94,1.43,-5.59,3.47,-5.5,3.57,-5.59,3.25,-5.5,3.33,-5.36,3.37,-5.01,3.81,-4.95,3.69,-4.86,3.47,-4.81,3.41,-4.84,3.28,-4.79,3.61,-5.28,3.04,-5.22,2.7,-5.15,2.59,-5.27,2.34,-5.8,3.25,-5.96,3.14,-5.92,3.37,-6.22,3.21,-6.19,2.85,-6.1,2.85,-6.18,2.7,-6.19,2.6,-6.07,2.48,-5.96,2.53,-6.11,2.18,-6.33,2.41,-6.55,3.09,-6.4,2.82,-6.98,2.51,-7.03,3.74,-6.54,2.02,-6.4,2,-7.08,2.04,-6.41,1.74,-6.28,1.57,-6.03,1.59,-5.77,1.7,-5.66,1.52,-6.21,1.43,-5.78,1.32,-5.78,1.18,-4.85,1.38,-4.6,1.31,-4.61,1.23,-4.44,1.54,-4.47,1.42,-6.91,1.4,-6.64,1.26,-6.52,1.11,-6.4,1.04,-6.28,1.04,-6.43,0.92,-6.31,0.85,-6.19,0.83,-6.49,0.78,-6.58,0.66,-6.46,0.61,-6.34,0.68,-6.19,0.51,-8.55,0.51,-8.65,0.37,-6.61,0.36,-6.47,0.37,-8.07,0.1,-7.4,0.06,-6.16,-0.02,-6.1,0,-5.98,-0.09,-7.77,-0.17,-7.65,-0.24,-6.65,-0.19,-6.5,-0.5,-6.44,-0.47,-6.33,-0.52,-8.02,-0.79,-5.92,-0.47,-5.91,-1.16,-5.42,-0.83,-8.11,1.33,-7,0.75,-6.1,0.95,-6.01,1.04,-5.92,1.07,-5.89,0.95,-5.95,0.81,-5.84,0.68,-5.68,0.78,-5.77,0.78,-5.62,0.95,-5.57,1.08,-5.65,0.66,-5.51,0.66,-5.68,0.51,-5.53,0.48,-5.37,0.49,-5.27,0.35,-5.81,0.38,-5.37,0.25,-5.43,0.16,-5.05,0.27,-5.77,0,-5.56,0,-5.84,-0.17,-5.37,-0.15,-5.34,-0.31,-5.46,0.78,-5.41,0.85,-5.31,0.92,-5.22,1.16,-5.25,1.07,-5.36,1.02,-5.12,1.04,-4.98,1.1,-5.01,0.97,-5.25,0.92,-5.16,0.92,-5.28,0.82,-5.19,0.82,-5.1,0.82,-5.01,0.82,-5.34,0.73,-5.25,0.73,-5.16,0.73,-5.01,0.66,-5.28,0.62,-5.19,0.63,-5.42,0.56,-4.8,0.97,-4.77,0.86,-5.1,0.63,-4.89,0.51,-4.86,0.56,-5.01,0.44,-4.6,0.59,-4.52,0.66,-4.65,0.44,-4.62,0.37,-4.92,0.27,-4.95,0.2,-5,0.14,-4.68,0.25,-4.67,0.16,-4.67,0.08,-4.53,0.09,-4.34,0.19,-3.91,0.4,-3.75,0.26,-2.92,0.25,-4.52,-0.08,-4.35,-0.15,-4.35,-0.33,-4.98,-0.2,-4.68,-0.19,-4.75,-0.23,-4.8,-0.37,-4.73,-0.43,-4.68,-0.52,-4.67,-0.62,-4.53,-0.45,-4.51,-0.52,-4.45,-0.64,-4.57,-0.68,-4.95,-0.81,-4.64,-0.82,-4.49,-0.95,-4.36,-0.88,-4.29,-0.69,-4.23,-0.79,-4.35,-0.98,-4.32,-1.06,-4.26,-1.12,-4.22,-1.16,-4.13,-1.04,-4.08,-0.88,-4.16,-0.95,-3.98,-0.74,-3.98,-0.82,-4.7,-1.16,-4.44,-1.13,-4.04,-1.24,-4.2,-1.41,-3.99,-1.41,-3.96,-1.46,-3.78,-1.43,-4.37,-1.51,-4.21,-1.71,-3.08,-1.63,-4.2,-2.07,-4.68,-2.13,-3.82,-2.05,-3.6,-2.08,-4.09,-2.16,-4.12,1.62,-4,1.65,-3.9,1.6,-3.8,1.66,-3.72,1.65,-4.3,1.55,-4.18,1.52,-4.08,1.55,-3.98,1.5,-3.88,1.55,-3.78,1.5,-3.68,1.52,-4.3,1.42,-4.2,1.4,-4.1,1.44,-4,1.4,-3.9,1.44,-3.8,1.4,-3.7,1.42,-3.6,1.4,-4.28,1.3,-4.18,1.28,-4.08,1.32,-3.98,1.28,-3.88,1.32,-3.78,1.3,-3.68,1.28,-3.58,1.3,-4.35,1.18,-4.25,1.2,-4.15,1.16,-4.05,1.2,-3.95,1.16,-3.85,1.2,-3.75,1.16,-3.65,1.22,-4.3,1.06,-4.2,1.04,-4.1,1.08,-4,1.02,-3.9,1.06,-3.78,1,-3.48,1.55,-3.25,1.49,-3.36,1.38,-3.31,1.27,-3.13,1.02,-3.57,1.02,-3.41,1.01,-3.66,0.92,-3.51,0.91,-3.36,0.92,-4.38,0.87,-4.14,0.92,-3.96,0.92,-3.84,0.78,-4.26,0.78,-4,0.71,-3.63,0.71,-3.45,0.75,-3.26,0.69,-3.54,0.68,-4.29,0.61,-4.11,0.59,-3.69,0.6,-3.34,0.6,-2.94,-1.78,-2.64,-1.89,-3.51,-1.9,-4.21,-2.07,-3.83,-2.04,-4.1,-2.15,-3.98,-2.19,-4.09,-2.24,-3.62,-2.08,-3.51,-2.16,-3.27,-2.11,-3.24,-2.19,-2.75,-2.07,-3.45,-2.25,-3.51,-2.34,-3.76,-2.67,-3.68,-2.64,-3.64,-2.88,-3.58,-2.97,-3.42,-3.29,-3.35,-3.25,-2.91,-3.31,-3.23,-3.63,-2.91,-3.81,-2.83,-3.74,-3.48,-4.3,-2.35,-2.21,-2.15,-3.68,-1.48,-3.75,-1.55,-3.9,-1.74,-3.17,-1.27,-4.03,-1.39,-4.19,-1.33,-4.59,-0.5,-3.38,-0.62,-3.48,-1.06,-3.8,-0.79,-3.87,-0.39,-3.9,-0.65,-4.13,-0.41,-4.1,-0.15,-4.19,-0.34,-4.27,-0.04,-4.31,0.22,-4.21,0.31,-4.32,-0.51,-4.58,-0.06,-4.63,0.12,-4.58,0.47,-4.52,0.43,-4.1,0.95,-4.18,0.8,-2.59,0.66,-2.77,0.54,-2.25,0.8,-2.86,0.88,-3.11,1.35,-2.05,2.06,-1.32,2.32,-1.41,2.59,-1.41,3.24,-1.67,3.27,-1.7,3.57,-2.07,3.7,-2.11,3.7,-2.54,2.53,-2.34,2.39,-2.89,1.29,-3.31,3.03,-1.89,3.02,-3.49,1.36,-4.57,1.12,-4.63,1.71,-4.58,2.33,-4.69,3.12,-4.5,2.84,-5.09,2.67,-5.95,0.75,-4.86,0.43,-5.08,0.66,-5.26,0.84,-5.27,1.31,-5.48,1.41,-5.81,1.52,-5.88,1.31,-5.98,1.62,-6.16,0.83,-6.11,0,-6.47,-0.36,-6.14,-1.91,-5.71,-3.82,-6.47,-2.29,-4.08,-5.87,-4.87,-5.76,-5.01,-5.64,-5.09,-5.82,-4.95,-5.6,-4.9,-5.71,-4.81,-5.51,-5.06,-5.01,-4.76,-5.53,-4.95,7.4,-4.78,-4.24,1.48,-4.14,1.48,-4.04,1.48,-3.94,1.48,-3.84,1.47,-3.74,1.47,-3.64,1.46,-4.25,1.36,-4.14,1.36,-4.04,1.36,-3.94,1.37,-3.84,1.36,-3.74,1.36,-3.63,1.35,-4.32,1.24,-4.22,1.24,-4.12,1.24,-4.02,1.24,-3.92,1.24,-3.82,1.24,-3.72,1.23,-4.26,1.12,-4.16,1.1,-4.06,1.12,-3.96,1.11,-3.86,1.12,-3.72,1.1,-4.05,1.58,-3.95,1.58,-3.84,1.58,-5.3,1,-5.2,0.98,-5.1,0.95,-5.32,0.78,-5.22,0.78,-5.12,0.76,-5.03,0.74,-5.22,0.87,-5.13,0.87,-5.3,0.67,-5.22,0.67,-5.13,0.68];
const pdcPoints=[5.91,5.96,6.32,4.01,-2.77,1.41,-2.23,1.45,-2,1.45,-2.02,1.39,-1.87,1.26,-1.65,1.39,-1.85,1.51,-1.6,1.54,-1.48,1.48,-1.37,1.5,-1.3,1.55,-1.17,1.57,-1.17,1.43,-2,0.79,-3.99,0.3,1.45,1.88,0.95,1.26,1.59,1.23,1.67,1.55,0.7,0.77,0.93,0.79,1.21,-0.33,1.67,-0.52,0.69,-1.09,1.01,-1,1.52,-1,3,-1.64,1.62,-1.93,1.76,-2,-2.77,-1.78,-3.51,-2.08,-2.75,-1.78,-3.56,-2.64,-3.48,-2.52,-3.58,-2.37,-3.45,-2.4,-3.3,-2.11,-3.12,-2.16,-2.17,-2.82,-3.15,-2.92,-3.52,-2.9,-3.32,-3.09,-3.5,-3.18,-3.55,-3.37,-3.41,-3.41,-3.39,-3.51,-2.93,-3.49,-3.04,-3.61,1.61,-1.91,1.75,-2,3,-1.63,3.4,-2.22,2.49,-3.55,1.9,-3.85,3.44,-3.82,2.47,-4.79,-0.98,-3.68,-0.63,-4.45,0.43,-4.32,0.69,-1.09,1,-1.02,1.51,-0.99];
const seriesPoints=[gmpPoints,proMonoPoints,cdcPoints,monoPoints,earlyEryPoints,lateEryPoints,pdcPoints];
const drawOrder=[3,1,0,5,4,2,6];

const SVGNS='http://www.w3.org/2000/svg';
function scaleX(v){return 1482.7+v*84.83;}
function scaleY(v){return 697.3-v*69.3;}

const pointsLayer=document.getElementById('points');
drawOrder.forEach(function(si){
  const pts=seriesPoints[si];
  for(let i=0;i+1<pts.length;i+=2){
    const c=document.createElementNS(SVGNS,'circle');
    
    
    c.setAttribute('cx',scaleX(pts[i]).toFixed(1));
    c.setAttribute('cy',scaleY(pts[i+1]).toFixed(1));
    c.setAttribute('r','4.6');
    c.setAttribute('fill',seriesColors[si]);
    pointsLayer.appendChild(c);
  }
});

const ticksLayer=document.getElementById('ticks');
xTicks.forEach(function(t){
  const l=document.createElementNS(SVGNS,'line');
  
  
  l.setAttribute('x1',scaleX(t));
  l.setAttribute('x2',scaleX(t));
  l.setAttribute('y1','1606');
  l.setAttribute('y2','1619');
  l.setAttribute('stroke','#000');
  l.setAttribute('stroke-width','4.2');
  ticksLayer.appendChild(l);
  const s=document.createElementNS(SVGNS,'text');
  
  
  s.setAttribute('x',scaleX(t));
  s.setAttribute('y','1668');
  s.setAttribute('font-size','50');
  s.setAttribute('text-anchor','middle');
  s.textContent=String(t);
  ticksLayer.appendChild(s);
});
yTicks.forEach(function(t){
  const l=document.createElementNS(SVGNS,'line');
  
  
  l.setAttribute('x1','616.5');
  l.setAttribute('x2','629');
  l.setAttribute('y1',scaleY(t));
  l.setAttribute('y2',scaleY(t));
  l.setAttribute('stroke','#000');
  l.setAttribute('stroke-width','4.2');
  ticksLayer.appendChild(l);
  const s=document.createElementNS(SVGNS,'text');
  
  
  s.setAttribute('x','603');
  s.setAttribute('y',scaleY(t)+18);
  s.setAttribute('font-size','50');
  s.setAttribute('text-anchor','end');
  s.textContent=String(t);
  ticksLayer.appendChild(s);
});

const legendLayer=document.getElementById('legend');
seriesNames.forEach(function(name,i){
  const cy=636.3+i*64;
  const c=document.createElementNS(SVGNS,'circle');
  
  
  c.setAttribute('cx','2274');
  c.setAttribute('cy',cy);
  c.setAttribute('r','16.7');
  c.setAttribute('fill',seriesColors[i]);
  legendLayer.appendChild(c);
  const s=document.createElementNS(SVGNS,'text');
  
  
  s.setAttribute('x','2335');
  s.setAttribute('y',cy+17.3);
  s.setAttribute('font-size','50');
  s.textContent=name;
  legendLayer.appendChild(s);
});
</script>
</body>
</html>
